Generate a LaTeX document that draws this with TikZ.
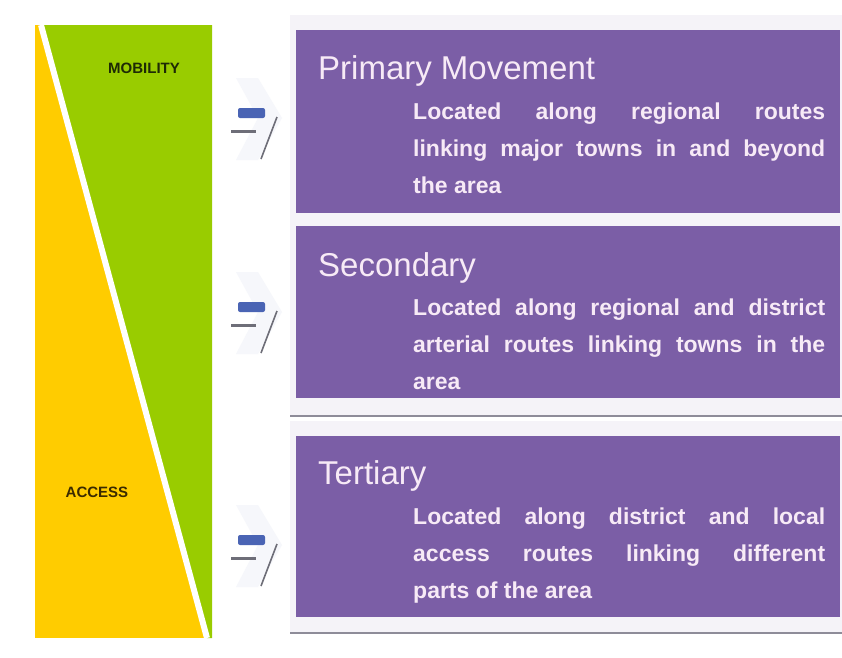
\documentclass[tikz,border=0pt]{standalone}
\usepackage{fontspec}
\setmainfont{Liberation Sans}
\usepackage{xcolor}
\usepackage{tikz}
\usetikzlibrary{positioning}
\definecolor{mobgreen}{HTML}{99CC00}
\definecolor{accyellow}{HTML}{FFCC00}
\definecolor{routepurple}{HTML}{7B5EA6}
\definecolor{panelbg}{HTML}{F5F3F8}
\definecolor{panelline}{HTML}{8E8C99}
\definecolor{lbltext}{HTML}{F7EAF6}
\definecolor{iconblue}{HTML}{4A64B4}
\definecolor{icongray}{HTML}{6E6E78}
\definecolor{iconpale}{HTML}{F6F7FB}
\definecolor{tagdark}{HTML}{1E2A05}
\definecolor{tagbrown}{HTML}{3A2A00}
\tikzset{
  routeBox/.style={fill=routepurple, draw=none, inner sep=0pt, anchor=north west, minimum width=544pt},
  titleLbl/.style={text=lbltext, font=\fontsize{33}{36}\selectfont, inner sep=0pt, anchor=base west},
  bodyLbl/.style={text=lbltext, font=\fontsize{23}{37}\selectfont\bfseries, inner sep=0pt,
    anchor=north west, text width=412pt, align=justify},
  tagLbl/.style={text=tagdark, font=\fontsize{15}{18}\selectfont\bfseries, inner sep=0pt},
  panelFill/.style={fill=panelbg, draw=none},
  panelEdge/.style={draw=panelline, line width=2pt},
}

\begin{document}
\begin{tikzpicture}[x=1pt, y=-1pt]
  \useasboundingbox (0,0) rectangle (842,657);
  \fill[white] (0,0) rectangle (842,657);

  % mobility / access wedge
  \fill[accyellow] (35,25) rectangle (212,638);
  \fill[mobgreen] (41,25) -- (212,25) -- (212,638) -- (207,638) -- cycle;
  \draw[white, line width=6pt] (41,25) -- (207,638);
  \node[tagLbl] (mobTag) at (144,68) {MOBILITY};
  \node[tagLbl, text=tagbrown] (accTag) at (97,492) {ACCESS};

  % arrow icons
  \foreach \y in {108,302,535}{
    \fill[iconpale] (236,\y-30) -- (258,\y-30) -- (282,\y+10) -- (258,\y+52) -- (236,\y+52) -- (258,\y+10) -- cycle;
    \fill[iconblue, rounded corners=2pt] (238,\y) rectangle (265,\y+10);
    \fill[icongray] (231,\y+22) rectangle (256,\y+25);
    \draw[icongray, line width=1.6pt] (277,\y+9) -- (261,\y+51);
  }

  % panels
  \fill[panelFill] (290,15) rectangle (842,416);
  \draw[panelEdge] (290,416) -- (842,416);
  \fill[panelFill] (290,421) rectangle (842,633);
  \draw[panelEdge] (290,633) -- (842,633);

  \node[routeBox, minimum height=183pt] (primBox) at (296,30) {};
  \node[routeBox, minimum height=172pt] (secBox) at (296,226) {};
  \node[routeBox, minimum height=181pt] (terBox) at (296,436) {};

  \node[titleLbl] (primTitle) at ([xshift=22pt,yshift=-49pt]primBox.north west) {Primary Movement};
  \node[titleLbl] (secTitle) at ([xshift=22pt,yshift=-50pt]secBox.north west) {Secondary};
  \node[titleLbl] (terTitle) at ([xshift=22pt,yshift=-48pt]terBox.north west) {Tertiary};

  \node[bodyLbl] (primText) at ([xshift=117pt,yshift=-73pt]primBox.north west)
    {Located along regional routes\linebreak linking major towns in and beyond\linebreak the area};
  \node[bodyLbl] (secText) at ([xshift=117pt,yshift=-73pt]secBox.north west)
    {Located along regional and district\linebreak arterial routes linking towns in the\linebreak area};
  \node[bodyLbl] (terText) at ([xshift=117pt,yshift=-72pt]terBox.north west)
    {Located along district and local\linebreak access routes linking different\linebreak parts of the area};
\end{tikzpicture}
\end{document}
